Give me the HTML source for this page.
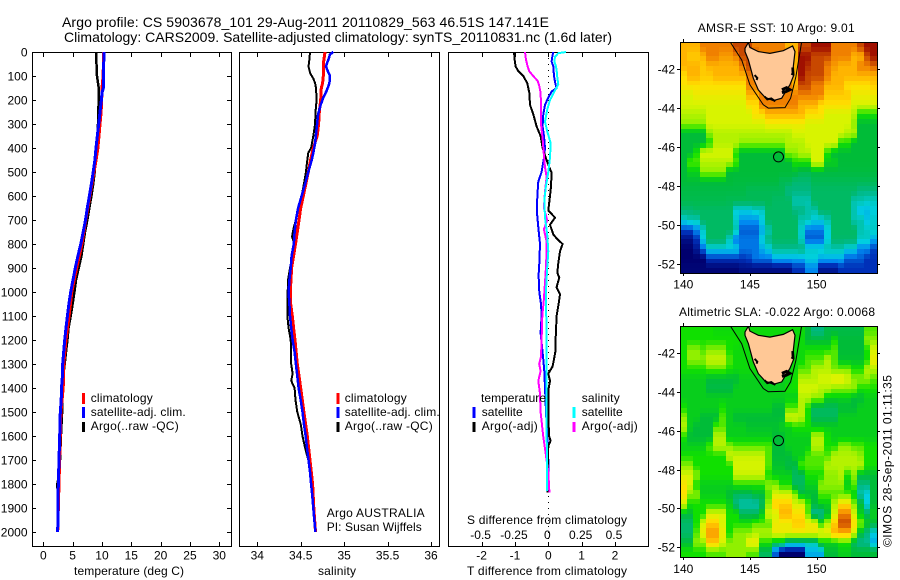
<!DOCTYPE html>
<html>
<head>
<meta charset="utf-8">
<title>Argo profile</title>
<style>
html,body{margin:0;padding:0;background:#fff;width:900px;height:580px;overflow:hidden}
svg{display:block}
text{font-family:"Liberation Sans",sans-serif;font-size:12px;fill:#000}
.crisp{shape-rendering:crispEdges}
</style>
</head>
<body>
<svg id="chart" xmlns="http://www.w3.org/2000/svg" width="900" height="580" viewBox="0 0 900 580">
<rect x="0" y="0" width="900" height="580" fill="#fff"/>
<text x="62" y="27" textLength="487" style="font-size:14px">Argo profile: CS 5903678_101 29-Aug-2011 20110829_563 46.51S 147.141E</text>
<text x="64" y="42" textLength="548" style="font-size:14px">Climatology: CARS2009. Satellite-adjusted climatology: synTS_20110831.nc (1.6d later)</text>
<g id="layer-maps"></g>
<g id="layer-profiles"></g>

<text x="74" y="575" textLength="110">temperature (deg C)</text>
<text x="318" y="575" textLength="38">salinity</text>
<text x="467" y="575" textLength="160">T difference from climatology</text>
<text x="467" y="524" textLength="160">S difference from climatology</text>

<g>
<rect x="82" y="393" width="3" height="11" fill="#f00"/>
<rect x="82" y="407" width="3" height="11" fill="#00f"/>
<rect x="82" y="422" width="3" height="10" fill="#000"/>
<text x="90.7" y="402" textLength="62">climatology</text>
<text x="90.7" y="416" textLength="95">satellite-adj. clim.</text>
<text x="90.7" y="430" textLength="88">Argo(..raw -QC)</text>
</g>
<g>
<rect x="336.5" y="393" width="3" height="11" fill="#f00"/>
<rect x="336.5" y="407" width="3" height="11" fill="#00f"/>
<rect x="336.5" y="422" width="3" height="10" fill="#000"/>
<text x="344.7" y="402" textLength="62">climatology</text>
<text x="344.7" y="416" textLength="95">satellite-adj. clim.</text>
<text x="344.7" y="430" textLength="88">Argo(..raw -QC)</text>
<text x="326.7" y="517" textLength="98">Argo AUSTRALIA</text>
<text x="326.7" y="531" textLength="95">PI: Susan Wijffels</text>
</g>
<g>
<text x="481" y="402" textLength="65">temperature</text>
<rect x="472.5" y="407" width="3" height="11" fill="#00f"/>
<rect x="472.5" y="422" width="3" height="10" fill="#000"/>
<text x="481.7" y="416" textLength="41">satellite</text>
<text x="481.7" y="430" textLength="56">Argo(-adj)</text>
<text x="581.7" y="402" textLength="38">salinity</text>
<rect x="572.5" y="407" width="3" height="11" fill="#0ff"/>
<rect x="572.5" y="422" width="3" height="10" fill="#f0f"/>
<text x="581.7" y="416" textLength="41">satellite</text>
<text x="581.7" y="430" textLength="56">Argo(-adj)</text>
</g>

<text x="697.7" y="32" textLength="157">AMSR-E SST: 10 Argo: 9.01</text>
<text x="679" y="316" textLength="196">Altimetric SLA: -0.022 Argo: 0.0068</text>
<text transform="translate(891.5,547) rotate(-90)" textLength="172">©IMOS 28-Sep-2011 01:11:35</text>
</svg>

<script>
// ---------- profile data: depth (m) and value pairs ----------
const depthTicks = [0,100,200,300,400,500,600,700,800,900,1000,1100,1200,1300,1400,1500,1600,1700,1800,1900,2000];
const tempTicks = [0,5,10,15,20,25,30];
const salTicks = [34,34.5,35,35.5,36];
const salTickLabels = ['34','34.5','35','35.5','36'];
const tDiffTicks = [-2,-1,0,1,2];
const tDiffTickLabels = ['-2','-1','0','1','2'];
const sDiffTickValues = [-0.5,-0.25,0,0.25,0.5];
const sDiffTickLabels = ['-0.5','-0.25','0','0.25','0.5'];

const tempArgoDepth = [0,100,150,200,250,300,350,400,450,500,550,600,650,700,750,800,850,900,950,1000,1050,1100,1150,1200,1250,1300,1350,1400,1500,1600,1700,1750,1800,1900,2000];
const tempArgoValue = [8.98,9.15,9.44,9.5,9.32,9.32,9.2,8.98,8.87,8.76,8.5,8.2,7.84,7.5,7.1,6.8,6.5,6.03,5.57,5.3,5.0,4.67,4.3,4.1,3.87,3.65,3.4,3.3,3.2,3.0,2.85,2.75,2.4,2.5,2.45];
const tempClimDepth = [0,100,150,200,250,300,350,400,450,500,600,700,800,900,1000,1100,1200,1300,1400,1500,2000];
const tempClimValue = [10.3,10.2,10,9.95,9.85,9.66,9.5,9.3,9,8.65,7.95,7.25,6.6,5.7,4.85,4.4,3.87,3.5,3.4,3,2.45];
const tempSatDepth = [0,50,100,150,170,200,250,300,350,400,450,500,550,600,650,700,750,800,850,900,950,1000,1050,1100,1150,1200,1250,1300,1350,1400,1450,1500,1600,1700,1800,1900,2000];
const tempSatValue = [10.35,10.3,10.3,10.25,10,9.9,9.66,9.44,9.2,8.98,8.8,8.5,8.2,7.85,7.5,7.2,6.8,6.4,5.9,5.46,5.06,4.67,4.37,4.1,3.87,3.65,3.47,3.3,3.25,3.1,3.05,2.9,2.8,2.68,2.56,2.5,2.45];

const salArgoDepth = [0,30,60,90,110,130,150,200,250,300,350,400,420,450,500,550,600,650,700,730,770,790,850,900,950,1000,1050,1100,1150,1200,1250,1300,1340,1370,1400,1450,1500,1550,1600,1650,1700,1750,1800,1850,1900];
const salArgoValue = [34.607,34.6,34.59,34.61,34.645,34.665,34.676,34.683,34.67,34.665,34.645,34.62,34.587,34.576,34.56,34.537,34.51,34.47,34.445,34.42,34.4,34.42,34.407,34.376,34.353,34.35,34.35,34.345,34.36,34.384,34.39,34.39,34.407,34.39,34.43,34.44,34.46,34.5,34.52,34.55,34.587,34.614,34.637,34.645,34.645];
const salClimDepth = [0,50,100,130,150,200,250,300,350,400,450,500,600,650,700,750,800,900,1000,1050,1100,1150,1200,1300,1400,1500,1600,1700,1800,1900,2000];
const salClimValue = [34.78,34.76,34.76,34.752,34.737,34.73,34.714,34.706,34.69,34.645,34.614,34.587,34.53,34.5,34.48,34.46,34.44,34.395,34.38,34.385,34.403,34.418,34.434,34.46,34.5,34.537,34.576,34.607,34.637,34.65,34.67];
const salSatDepth = [0,10,30,60,75,100,130,160,190,220,260,320,380,420,450,500,550,600,650,700,750,800,850,900,950,1000,1050,1100,1150,1200,1250,1300,1350,1400,1450,1500,1550,1600,1650,1700,1750,1800,1850,1900,1950,2000];
const salSatValue = [34.875,34.837,34.82,34.79,34.806,34.837,34.83,34.8,34.76,34.73,34.7,34.683,34.665,34.645,34.626,34.587,34.55,34.51,34.47,34.445,34.43,34.42,34.395,34.384,34.37,34.36,34.37,34.376,34.39,34.407,34.43,34.445,34.46,34.476,34.5,34.52,34.537,34.557,34.572,34.59,34.607,34.62,34.633,34.645,34.656,34.67];

const tDiffArgoDepth = [0,30,60,80,100,130,170,220,260,310,350,400,450,480,503,560,600,660,690,720,760,780,800,830,880,920,940,980,1010,1050,1100,1200,1250,1280,1310,1340,1370,1410,1500,1600,1620,1640,1800,1835];
const tDiffArgoValue = [-1.03,-1.01,-0.98,-0.9,-0.75,-0.63,-0.57,-0.55,-0.45,-0.35,-0.23,-0.17,-0.05,0.03,0.1,0.08,0.05,0,0.2,0.05,0.15,0.27,0.43,0.35,0.3,0.27,0.33,0.25,0.35,0.31,0.25,0.22,0.21,0.17,0.13,0,0.05,0,0,0.02,0.07,0,-0.02,-0.02];
const tDiffSatDepth = [0,20,40,60,100,130,150,165,190,220,260,310,350,400,440,500,540,600,670,730,800,880,930,1000,1050,1100,1170,1280,1330,1500,1700,1835];
const tDiffSatValue = [0.15,0.12,0.1,0.15,0.17,0.21,0.25,0.1,0,-0.1,-0.15,-0.17,-0.13,-0.1,-0.13,-0.2,-0.3,-0.33,-0.34,-0.3,-0.25,-0.27,-0.29,-0.27,-0.22,-0.2,-0.23,-0.15,-0.12,-0.07,0,0];
const sDiffArgoDepth = [0,30,60,80,100,120,140,170,220,300,360,430,480,520,580,650,700,739,790,830,900,960,1030,1100,1200,1270,1300,1330,1370,1420,1500,1600,1680,1750,1835];
const sDiffArgoValue = [-0.175,-0.168,-0.155,-0.143,-0.113,-0.08,-0.068,-0.058,-0.055,-0.055,-0.043,-0.033,-0.025,-0.013,-0.025,-0.033,-0.008,-0.033,-0.013,-0.013,-0.018,-0.025,-0.033,-0.045,-0.05,-0.055,-0.068,-0.058,-0.075,-0.063,-0.058,-0.038,-0.018,0,0.008];
const sDiffSatDepth = [0,5,20,40,60,80,110,135,160,200,240,290,330,380,440,500,560,620,690,760,830,900,1000,1200,1400,1600,1700,1830];
const sDiffSatValue = [0.133,0.075,0.05,0.045,0.058,0.063,0.068,0.075,0.05,0.013,-0.008,-0.025,-0.008,0.018,0.013,0,-0.018,-0.03,-0.025,-0.008,0,-0.008,-0.018,-0.013,-0.013,-0.013,-0.008,-0.008];

// ---------- gridded map data: colour level per grid node, north to south ----------
const sstGrid = [
[10,10,10,11,11,11,11,11,12,12,12,11,11,11,11,11,10,10,12,12,13,13,13,11,11,11,11,12,13,13],
[10,9.5,9.5,10,11,11,10.5,10.5,11,12,12,12,11,11,11,11,11,10,13,13,12,12,12,11,11,11,10,10,12,13],
[10,10,10,9.5,10,10,10,10,10,11,12,11,11,11,11,11,11,10,13,12.5,12,12,11,10.5,10,10,10,11,11,11.5],
[9,10,10,9.5,9.5,10,10,10,10,10,11,11,11,11,11,11,11,10,13,12,12,12,11,10,10,10,10,10,10,10],
[9,9,9,9,9,9,9,9,9,9,11,11,11,11,11,11,11,10,12,12,11,11,10,10,10,9,9,9,9,9.5],
[8,8,8.5,8.5,8.5,8.5,8.5,8.5,8.5,8.5,10,10,11,11,11,11,11,11,11,11,11,11,9.5,9.5,9.5,9.5,8.5,8.5,8.5,8.5],
[8,8,8,8,8,8,8,8,8,8,9,9,11,11,11,11,11,11,10,10,10,9,9,9,9,9,8,8,8,8],
[7.5,7.5,7.5,7.5,8,8,8,8,8,8,8,9,9,10,10,10,10,10,10,9,9,9,8,8,8,8,7.5,6,6,6],
[7,7,7,7,8,8,8,8,8,8,8,8,8,8.5,8.5,8.5,8.5,8.5,8.5,8,8,8,8,8,8,8,7,5,5,5],
[5,5,5,5,7,7.5,7.5,7.5,7.5,7.5,7.5,7.5,7.5,7.5,7.5,7.5,7.5,8,8,8,8,8,8,8,8,7.5,7.5,5,5,5],
[5,5,5,5,6,7.5,7.5,7.5,7.5,7,7,7,7,7,7,7,7.5,7.5,7.5,8,8,8,8,8,6,6,5,5,5,5],
[5,5,6,8,8,8,8,8,6,5,5,5,5,5,5,5,7,7,7.5,7.5,8,8,6,5,5,5,5,5,5,5],
[5,6.5,6.5,7.5,7.5,7.5,7.5,7.5,6.5,5,5,5,5,5,5,5,5,6,6,6,8,8,5.5,5.5,5,5,5,5,5,5],
[5,5.5,5.5,7,7,7,7,5,5,5,5,5,5,5,5,5,5,5,4.7,4.7,4.9,4.9,4.9,4.9,4.9,4.9,4.9,4.9,4.9,4.9],
[5,5,5,5,5,5,5,5,4.9,4.9,4.9,4.9,4.9,4.9,4.9,4.6,4.6,4.2,4.2,4.2,4.6,4.6,4.6,4.6,4.6,4.6,4.6,4.6,4.6,4.6],
[4.8,4.8,4.8,4.8,4.8,4.8,4.8,4.8,4.8,4.8,4.6,4.6,4.6,4.6,4.6,4.6,4,4,4,4,4.4,4.4,4.4,4.4,4.4,4.4,4.4,4,4,4],
[4.7,4.7,4.7,4.7,4.7,4.7,4.7,4.6,4.6,4.6,4.6,4.6,4.6,4.6,4.4,4.4,4.4,3.5,3.5,3.5,4.4,4.4,4.4,4.4,4.4,4.4,3.5,3.5,3.3,3.3],
[4.2,4.2,4.4,4.4,4.4,4.4,4.4,4.4,3,3,3,3.3,3.3,4.4,4.4,4.4,4.4,4,4,3.6,3.6,4.4,4.4,4.4,4.4,4.4,3.5,2.7,2.7,3],
[3.2,3.5,3.5,4.4,4.4,4.4,4.4,4.4,3.2,2.2,2.2,2.2,3,4.4,4.4,4.4,4.4,4.4,3.5,3.5,3,3,3.5,4.4,4.4,4.4,3.5,3.5,2.8,3.2],
[1.2,1.2,2,3.2,4.4,4.4,4.4,4.4,3.5,1.5,1.5,1.5,2.5,3.5,4.4,4.4,4.4,4.4,3.2,1.8,1.8,1.8,3,4.4,4.4,4.4,4.4,3.5,3.3,3.3],
[0.3,0.3,1,3,4.4,4.4,4.4,3.3,1.8,1.8,1.8,1.8,3,4,4.4,4.4,4.4,4.4,3.3,1.5,1.5,1.5,3,4.3,4.3,4.3,4.3,3.3,3.3,2.5],
[0,0,0.5,1.6,3,3,3,3,3,1.8,1.8,1.8,2.5,3,3.8,3.8,3.8,3.8,4,3.2,3.2,3.2,3.5,3.5,3.5,3,3,2,2,1.2],
[0,0,0,0,1,1,1,1,1,1,1.2,1.8,1.8,1.8,2.5,2.5,2.5,2.5,2.5,3,3,2.5,2.5,2.5,2.5,1.5,1.5,1.5,1,1],
[0.1,0.1,0.1,0.1,0.1,0.1,0.1,0.1,0.1,0.3,0.3,0.3,0.3,0.3,0.3,0.3,0.3,1,1,2,2,0.5,0.5,0.5,1,1,1,1,1,1]
];
const slaGrid = [
[6,6,6,6,6,5.8,5.8,5.8,5.8,5.8,5.8,5.8,5.8,5.8,5.8,5.8,5.8,5.8,5.8,5,4,4,4.8,4.8,4.8,4.8,4.8,4.8,6.5,6.5],
[6,6,6,6,6,6,6,6,6,5.8,5.8,5.8,5.8,5.8,5.8,5.8,5.8,5.8,5.8,5,5,5,5,6,5,5,5,5,7,7],
[6,7,7,6.5,7,7,7,6,5.8,5.8,5.8,5.8,5.8,5.8,5.8,5.8,5.8,5.8,5.8,6,6,6,6,6.5,5,5,5,5,6,8],
[6,7,7,7,7.8,7.8,7.8,6.5,5.8,5.8,5.8,5.8,5.8,5.8,5.8,5.8,5.8,5.8,5.8,6.5,6.5,6.5,7.5,6.5,5.2,5.2,5.2,5.2,6,8.5],
[6,6,6,6,6.5,6.5,6.5,6,5.8,5.8,5.8,5.8,5.8,5.8,5.8,5.8,5.8,5.8,6.5,6.5,7.5,7.5,7.5,6.8,6.8,6.8,6,6,7.5,7.5],
[5.5,5.5,5.5,5.5,5,5,5,5,5,5.5,5.5,5.5,5.5,5.5,5.5,5.5,5.5,6,7.5,7.5,7.5,8,8,8.5,8.5,8,7,7,7,6.5],
[5.5,5.5,5.5,5.5,4.8,4.8,4.8,4.8,5.5,5.5,5.5,5.5,5.5,5.5,5.5,5.5,6,6,8,8,8,7.5,7.5,7,7,7,7,6,6,6],
[5.5,5.5,5.5,5.5,5.5,5.5,5.5,5.5,5.5,5.5,5.5,5.5,5.5,5.5,5.5,5.5,5.5,5.5,7.5,7.5,7,7,5.5,5.5,5.5,5.5,5,5,5.5,5.5],
[6,5.5,5.5,5.5,5.5,5.5,6,5.5,5.5,5.5,5.5,5.5,5.5,5.5,5,5,6.5,6.5,7.5,6,4.5,4.5,4.5,4.5,5,5,5,5.5,5.5,5.5],
[7,5.5,5.5,5,5,5,6.5,5.5,5,5,5,5,5,5,5,5,8,8,7.5,6,4.5,4.5,4.5,4.5,5.5,5.5,5.5,5.5,5.5,5.5],
[7.5,5.5,5,5,5,6.5,6.5,5.5,5.5,5.5,5.2,5.2,5.2,5.2,5.2,5.5,5.5,6,6,6,5.5,5.5,5.5,5.5,5.5,5.5,5.5,5.5,5.5,5.5],
[6,5,5,5,5,7.5,7.5,5.5,5.5,5.5,5.5,5.5,5.5,5.5,5,5,5.5,5.5,5.5,5.5,7.5,7.5,6,5.5,5.5,5.5,5.5,5.5,5.5,5.5],
[5.5,5.5,5.5,5.5,6.5,7.5,7.5,7,6.5,6.5,6.5,6.5,6.5,6.5,5,5,5.5,5.5,5.5,5.5,7.5,7.5,6,6,7,7,6.5,6.5,6,6],
[6,6,6,6,6,6,6,7.8,7.8,7.8,7.8,7.8,7.8,6.5,5,5,5,5.5,5.5,6.5,6.5,6.5,6.5,7.5,7.5,7.5,7.5,7,6,6],
[7,7,6,6,6,6,6,6,8,8,8,8,8,6.5,5.2,5.2,4.8,4.8,6.5,6.5,6.5,6.5,7.5,7.5,7.5,7.5,7.5,7.5,6,6],
[8,8,7,6,6,6,6,6,7.8,7.8,7.8,7.8,7.8,6,5.5,5.5,5.5,4.5,4.5,6,6,6,7,7,7.5,6,7,5,5,5],
[9,8,6,5.5,5.5,5.5,5.5,5.5,6,6,6,6,6,7,7,6,6,4.5,4.5,5.5,5.5,7,7,7,7,5.5,6.5,4,4,5],
[9,7,7,5.5,5.5,5.5,5.5,5,4.5,4.5,4.5,5,5,6.5,8,8,8,7,5,5,5,6.5,6.5,6.5,6.5,6.5,5.5,3.5,3,5],
[8,6,6,6,6,6,6,5.5,4,3.5,3.5,3.5,4.5,7,9.5,9.5,9.5,8,8,6.5,5,5.5,5.5,7.5,9,9,7,5,3,5],
[5,5,6,6,8,8,8,6,6,4.5,4.5,4.5,5.5,8,8,10,10,9,9,6.5,3.7,3.7,5,8,11,11,8,5.5,4.5,5.5],
[4.3,4.3,6,8,9.5,9.5,8,6,6,6,6,6.5,6.5,6.5,8.5,8.5,8.5,9.5,9.5,8.5,8.5,6,7.5,9.5,12,12,9,7,5.5,5],
[4.3,4.3,6.5,8.5,10.5,10.5,8.5,6,7,7,7,7.5,7.5,7.5,8.5,8.5,8.5,8.5,8.5,8.5,8.5,8.5,8.5,10,10,10,8,5,4,3],
[5,5,7,7,9.5,9.5,8,7,7,7,8.5,8.5,6,6,5,5,3.5,3.5,3.5,3.5,3.5,5.5,5.5,5.5,6,6,4.5,3.8,3.8,2.5],
[6,6,6,6,6.5,6.5,6.5,7,7,7,6.5,6.5,4.5,4.5,1.5,0,0,0,0,2.5,2.5,2.5,5,5,5.5,5.5,5,5,5,5]
];

// ---------- geography in lon/lat ----------
const coastLon = [144.63,144.88,145,145.63,146.5,147.5,148.2,148.38,148.25,148.3,148,147.75,147.38,146.75,146.13,145.63,145.25,144.88,144.63];
const coastLat = [-40.92,-40.62,-40.87,-41.09,-41.18,-41.04,-40.8,-41.09,-41.86,-42.29,-42.8,-43.06,-43.49,-43.61,-43.44,-43.06,-42.46,-41.52,-41.09];
const shelfLon = [143.5,144.38,145,146,146.38,147.63,148.05,148.45,148.88];
const shelfLat = [-40.58,-41.52,-42.8,-43.83,-44,-43.97,-43.49,-42.38,-40.58];
const inletLon = [147.4,147.75,148,147.7,147.4];
const inletLat = [-43.05,-42.95,-43.05,-43.15,-43.2];
const westInletLon = [145.35,145.55,145.5];
const westInletLat = [-42.3,-42.45,-42.55];
const eastInletLon = [148.2,148.22,148.15];
const eastInletLat = [-41.9,-42.2,-42.3];
const southInletLon = [146.1,146.3,146.6,146.9];
const southInletLat = [-43.4,-43.55,-43.5,-43.65];
const floatLon = [147.141];
const floatLat = [-46.51];
const mapLonTicks = [140,145,150];
const mapLatTicks = [-42,-44,-46,-48,-50,-52];
const levelStops = ['#00006e','#0030b8','#0088f0','#00d0e0','#00b880','#00bc38','#10e000','#90f000','#d8f400','#ffe000','#ffb400','#f08000','#c84800','#a01000'];

// ---------- helpers ----------
const NS = 'http://www.w3.org/2000/svg';
function el(parent, tag, attrs, text){
  const e = document.createElementNS(NS, tag);
  for (const k in attrs) e.setAttribute(k, attrs[k]);
  if (text !== undefined) e.textContent = text;
  parent.appendChild(e);
  return e;
}
function hexRgb(h){ return [1,3,5].map(i=>parseInt(h.substr(i,2),16)); }
function levelColor(v){
  const c = Math.max(0, Math.min(levelStops.length-1, v));
  const i = Math.min(levelStops.length-2, Math.floor(c));
  const f = c-i, a = hexRgb(levelStops[i]), b = hexRgb(levelStops[i+1]);
  return 'rgb(' + a.map((x,k)=>Math.round(x+(b[k]-x)*f)).join(',') + ')';
}
function sampleGrid(grid, cf, rf){
  const rows = grid.length, cols = grid[0].length;
  const c = Math.max(0, Math.min(cols-1, cf)), r = Math.max(0, Math.min(rows-1, rf));
  const c0 = Math.floor(c), r0 = Math.floor(r);
  const c1 = Math.min(cols-1, c0+1), r1 = Math.min(rows-1, r0+1);
  const u = c-c0, v = r-r0;
  return (grid[r0][c0]*(1-u)+grid[r0][c1]*u)*(1-v) + (grid[r1][c0]*(1-u)+grid[r1][c1]*u)*v;
}

const profLayer = document.getElementById('layer-profiles');
const mapLayer = document.getElementById('layer-maps');

// ---------- axis functions ----------
const yTop = 52, yBottom = 546;
function yDepth(d){ return 52 + d*0.24; }
function xTemp(t){ return 43.3 + t*5.867; }
function xSal(s){ return 257.3 + (s-34)*86.85; }
function xTDiff(t){ return 548.3 + t*33.33; }
function xSDiff(s){ return 548.3 + s*133.3; }

function drawSeries(parent, name, xFn, depths, values, color, width){
  const pts = depths.map((d,i)=>xFn(values[i]).toFixed(1)+','+yDepth(d).toFixed(1)).join(' ');
  const line = el(parent,'polyline',{points:pts,fill:'none',stroke:color,'stroke-width':width,'class':'crisp'});
  
  
}
function drawFrame(parent, name, x0, x1){
  const r = el(parent,'rect',{x:x0+0.5,y:yTop+0.5,width:x1-x0,height:yBottom-yTop,fill:'none',stroke:'#000','stroke-width':1,'class':'crisp'});
  
  
}
function drawXTicks(parent, xFn, ticks, labels){
  ticks.forEach((t,i)=>{
    const x = Math.round(xFn(t))+0.5;
    const a = el(parent,'line',{x1:x,x2:x,y1:yTop,y2:yTop+5,stroke:'#000','class':'crisp'});
    
    
    const b = el(parent,'line',{x1:x,x2:x,y1:yBottom,y2:yBottom-4,stroke:'#000','class':'crisp'});
    
    
    const l = el(parent,'text',{x:xFn(t),y:559.5,'text-anchor':'middle'},labels[i]);
    
    
  });
}

// ---------- temperature panel ----------
const p1 = el(profLayer,'g',{});


drawFrame(p1,'temperature-plot-frame',32,231);
drawXTicks(p1,xTemp,tempTicks,tempTicks.map(String));
depthTicks.forEach(d=>{
  const y = Math.round(yDepth(d))+0.5;
  const a = el(p1,'line',{x1:32,x2:36,y1:y,y2:y,stroke:'#000','class':'crisp'});
  
  
  const b = el(p1,'line',{x1:227,x2:231,y1:y,y2:y,stroke:'#000','class':'crisp'});
  
  
  const l = el(p1,'text',{x:27.5,y:y+4,'text-anchor':'end'},String(d));
  
  
});
drawSeries(p1,'temperature-argo-line',xTemp,tempArgoDepth,tempArgoValue,'#000',2.5);
drawSeries(p1,'temperature-climatology-line',xTemp,tempClimDepth,tempClimValue,'#f00',3);
drawSeries(p1,'temperature-satellite-line',xTemp,tempSatDepth,tempSatValue,'#00f',3);

// ---------- salinity panel ----------
const p2 = el(profLayer,'g',{});


drawFrame(p2,'salinity-plot-frame',239,439);
drawXTicks(p2,xSal,salTicks,salTickLabels);
drawSeries(p2,'salinity-argo-line',xSal,salArgoDepth,salArgoValue,'#000',2);
drawSeries(p2,'salinity-climatology-line',xSal,salClimDepth,salClimValue,'#f00',3);
drawSeries(p2,'salinity-satellite-line',xSal,salSatDepth,salSatValue,'#00f',2.5);

// ---------- difference panel ----------
const p3 = el(profLayer,'g',{});


drawFrame(p3,'difference-plot-frame',448,648);
drawXTicks(p3,xTDiff,tDiffTicks,tDiffTickLabels);
const zeroLine = el(p3,'line',{x1:548.5,x2:548.5,y1:yTop,y2:yBottom,stroke:'#000','stroke-dasharray':'1 5','class':'crisp'});


drawSeries(p3,'t-diff-satellite-line',xTDiff,tDiffSatDepth,tDiffSatValue,'#00f',2);
drawSeries(p3,'t-diff-argo-line',xTDiff,tDiffArgoDepth,tDiffArgoValue,'#000',2);
drawSeries(p3,'s-diff-argo-line',xSDiff,sDiffArgoDepth,sDiffArgoValue,'#f0f',2);
drawSeries(p3,'s-diff-satellite-line',xSDiff,sDiffSatDepth,sDiffSatValue,'#0ff',2);
sDiffTickValues.forEach((s,i)=>{
  const l = el(p3,'text',{x:xSDiff(s)-1,y:539,'text-anchor':'middle'},sDiffTickLabels[i]);
  
  
});

// ---------- maps ----------
function drawMap(name, grid, top, bottom, latAt42, labelBase, clipId){
  const g = el(mapLayer,'g',{});
  
  
  const left = 680, right = 877;
  const xLon = lon => 683.3 + (lon-140)*13.33;
  const yLat = lat => latAt42 + (-42-lat)*19.42;
  const clip = el(g,'clipPath',{id:clipId});
  el(clip,'rect',{x:left,y:top,width:right-left,height:bottom-top});
  const body = el(g,'g',{'clip-path':'url(#'+clipId+')'});
  const cols = grid[0].length, rows = grid.length;
  const nx = cols, ny = rows*2;
  const cw = (right-left)/nx, ch = (bottom-top)/ny;
  for (let r=0;r<ny;r++){
    for (let c=0;c<nx;c++){
      const x0 = Math.round(left+c*cw), x1 = Math.round(left+(c+1)*cw);
      const y0 = Math.round(top+r*ch), y1 = Math.round(top+(r+1)*ch);
      const v = sampleGrid(grid, c, (r+0.5)/2-0.5);
      const cell = el(body,'rect',{x:x0,y:y0,width:x1-x0,height:y1-y0,fill:levelColor(v),'class':'crisp'});
      
      
    }
  }
  const geo = (lons,lats)=>lons.map((l,i)=>xLon(l).toFixed(1)+','+yLat(lats[i]).toFixed(1)).join(' ');
  const shelf = el(body,'polyline',{points:geo(shelfLon,shelfLat),fill:'none',stroke:'#000','stroke-width':1});
  
  
  const land = el(body,'polygon',{points:geo(coastLon,coastLat),fill:'#ffc896',stroke:'#000','stroke-width':1.2});
  
  
  [[inletLon,inletLat,3],[westInletLon,westInletLat,2],[eastInletLon,eastInletLat,2.5],[southInletLon,southInletLat,2]].forEach(s=>{
    const inlet = el(body,'polyline',{points:geo(s[0],s[1]),fill:'none',stroke:'#000','stroke-width':s[2]});
    
    
  });
  const cx = Math.round(xLon(floatLon[0]))+0.5, cy = yLat(floatLat[0]);
  const marker = el(body,'circle',{cx:cx,cy:cy,r:5,fill:'none',stroke:'#000','stroke-width':1});
  
  
  const frame = el(g,'rect',{x:left+0.5,y:top+0.5,width:right-left,height:bottom-top,fill:'none',stroke:'#000','class':'crisp'});
  
  
  mapLonTicks.forEach(t=>{
    const x = Math.round(xLon(t))+0.5;
    const a = el(g,'line',{x1:x,x2:x,y1:top-3,y2:top,stroke:'#000','class':'crisp'});
    
    
    const b = el(g,'line',{x1:x,x2:x,y1:bottom,y2:bottom+3,stroke:'#000','class':'crisp'});
    
    
    const l = el(g,'text',{x:xLon(t),y:labelBase,'text-anchor':'middle'},String(t));
    
    
  });
  mapLatTicks.forEach(t=>{
    const y = Math.round(yLat(t))+0.5;
    const a = el(g,'line',{x1:left-3,x2:left,y1:y,y2:y,stroke:'#000','class':'crisp'});
    
    
    const b = el(g,'line',{x1:right,x2:right+3,y1:y,y2:y,stroke:'#000','class':'crisp'});
    
    
    const l = el(g,'text',{x:675,y:y+4,'text-anchor':'end'},String(t));
    
    
  });
}
drawMap('sst-map', sstGrid, 42, 273, 69.3, 288.5, 'clip-sst');
drawMap('sla-map', slaGrid, 326, 557, 353, 573, 'clip-sla');
</script>
</body>
</html>
